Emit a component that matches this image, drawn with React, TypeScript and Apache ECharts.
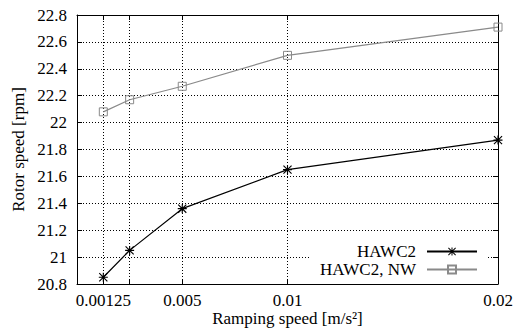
import React, { useEffect, useRef } from "react";
import * as echarts from "echarts";

const rampSpeeds = [0.00125, 0.0025, 0.005, 0.01, 0.02];
const hawc2 = [20.85, 21.05, 21.36, 21.65, 21.87];
const hawc2NW = [22.08, 22.17, 22.27, 22.5, 22.71];
const xTickValues = [0.00125, 0.0025, 0.005, 0.01, 0.02];
const xLabelValues = [0.00125, 0.005, 0.01, 0.02];
const seriesNames = ["HAWC2", "HAWC2, NW"];

const FONT = "'Liberation Serif', 'DejaVu Serif', serif";
const ASTERISK =
  "path://M0 8.75H20V11.25H0Z M8.75 0H11.25V20H8.75Z M1.884 0.116L19.884 18.116L18.116 19.884L0.116 1.884Z M18.116 0.116L19.884 1.884L1.884 19.884L0.116 18.116Z";

export default function App() {
  const ref = useRef<HTMLDivElement>(null);
  useEffect(() => {
    if (!ref.current) return;
    const chart = echarts.init(ref.current, null, { renderer: "svg" });
    const tickCommon = { inside: true, length: 5, lineStyle: { color: "#000", width: 1 } };
    const axisLineCommon = { show: true, onZero: false, lineStyle: { color: "#000", width: 1 } };
    chart.setOption({
      animation: false,
      backgroundColor: "#fff",
      textStyle: { fontFamily: FONT },
      grid: { left: 77, right: 15, top: 15, bottom: 44, containLabel: false, outerBoundsMode: "none" },
      legend: {
        orient: "vertical",
        right: 25,
        top: 240,
        align: "right",
        itemWidth: 50,
        itemHeight: 10,
        itemGap: 1,
        padding: [3, 10, 3, 10],
        backgroundColor: "#fff",
        textStyle: { fontFamily: FONT, fontSize: 17, color: "#000", lineHeight: 17, padding: [0, 6, 0, 0] },
        data: seriesNames,
      },
      xAxis: [
        {
          type: "value",
          position: "bottom",
          min: 0,
          max: 0.02,
          name: "Ramping speed [m/s²]",
          nameLocation: "middle",
          nameGap: 26,
          nameMoveOverlap: false,
          nameTextStyle: { fontFamily: FONT, fontSize: 17, color: "#000", lineHeight: 17 },
          axisLine: axisLineCommon,
          axisTick: { ...tickCommon, customValues: xTickValues },
          axisLabel: {
            customValues: xLabelValues,
            fontFamily: FONT,
            fontSize: 17,
            color: "#000",
            margin: 8,
            formatter: (v: number) => String(v),
          },
          splitLine: { show: true, lineStyle: { color: "#000", type: [1, 2], width: 1 } },
        },
        {
          type: "value",
          position: "top",
          min: 0,
          max: 0.02,
          axisLine: axisLineCommon,
          axisTick: { ...tickCommon, customValues: xTickValues },
          axisLabel: { show: false },
          splitLine: { show: false },
        },
      ],
      yAxis: [
        {
          type: "value",
          position: "left",
          min: 20.8,
          max: 22.8,
          interval: 0.2,
          name: "Rotor speed [rpm]",
          nameLocation: "middle",
          nameGap: 50,
          nameMoveOverlap: false,
          nameTextStyle: { fontFamily: FONT, fontSize: 17, color: "#000" },
          axisLine: axisLineCommon,
          axisTick: tickCommon,
          axisLabel: { fontFamily: FONT, fontSize: 17, color: "#000", margin: 10 },
          splitLine: { show: true, lineStyle: { color: "#000", type: [1, 2], width: 1 } },
        },
        {
          type: "value",
          position: "right",
          min: 20.8,
          max: 22.8,
          interval: 0.2,
          axisLine: axisLineCommon,
          axisTick: tickCommon,
          axisLabel: { show: false },
          splitLine: { show: false },
        },
      ],
      series: [
        {
          name: seriesNames[0],
          type: "line",
          xAxisIndex: 0,
          yAxisIndex: 0,
          data: rampSpeeds.map((x, i) => [x, hawc2[i]]),
          symbol: ASTERISK,
          symbolSize: 9,
          itemStyle: { color: "#000" },
          lineStyle: { color: "#000", width: 1.2 },
          z: 3,
        },
        {
          name: seriesNames[1],
          type: "line",
          xAxisIndex: 0,
          yAxisIndex: 0,
          data: rampSpeeds.map((x, i) => [x, hawc2NW[i]]),
          symbol: "rect",
          symbolSize: 8,
          itemStyle: { color: "rgba(255,255,255,0)", borderColor: "#8a8a8a", borderWidth: 1 },
          lineStyle: { color: "#8a8a8a", width: 1.2 },
          z: 2,
        },
      ],
    });
    return () => chart.dispose();
  }, []);
  return <div ref={ref} style={{ width: 513, height: 328, position: "absolute", left: 0, top: 0 }} />;
}
